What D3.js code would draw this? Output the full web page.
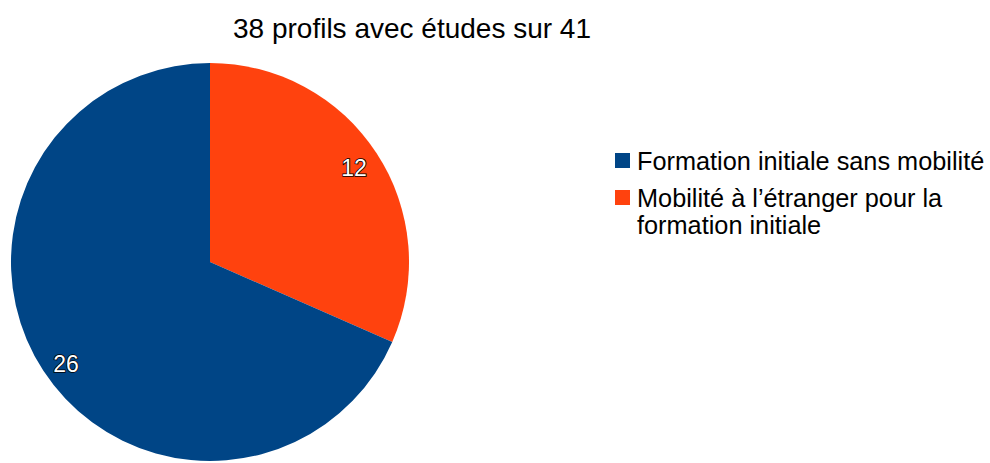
<!DOCTYPE html>
<html>
<head>
<meta charset="utf-8">
<script src="https://cdn.jsdelivr.net/npm/d3@7"></script>
<style>
  body { margin: 0; background: #fff; }
  text { font-family: "Liberation Sans", Arial, sans-serif; }
</style>
</head>
<body>
<svg width="990" height="463"></svg>
<script>
// Data
var categories = ["Mobilité à l’étranger pour la formation initiale", "Formation initiale sans mobilité"];
var values = [12, 26];
var colors = ["#ff420e", "#004586"];
var legendOrder = [1, 0];
var legendLines = [["Formation initiale sans mobilité"], ["Mobilité à l’étranger pour la", "formation initiale"]];
var title = "38 profils avec études sur 41";

var svg = d3.select("svg");
var cx = 210, cy = 262, radius = 199;

svg.append("text")
    .attr("x", 412)
    .attr("y", 38)
    .attr("text-anchor", "middle")
    .attr("font-size", 28)
    .attr("fill", "#000")
    .text(title);

var pie = d3.pie().sort(null).value(function(d) { return d; });
var arcs = pie(values);

var arc = d3.arc().innerRadius(0).outerRadius(radius);
var labelArc = d3.arc().innerRadius(172).outerRadius(172);
var labelDy = [8, 16];

var g = svg.append("g").attr("transform", "translate(" + cx + "," + cy + ")");

g.selectAll("path")
    .data(arcs)
    .enter().append("path")
    .attr("d", arc)
    .attr("fill", function(d, i) { return colors[i]; });

g.selectAll("text.lbl")
    .data(arcs)
    .enter().append("text")
    .attr("class", "lbl")
    .attr("transform", function(d) {
        var c = labelArc.centroid(d);
        return "translate(" + c[0] + "," + (c[1] + labelDy[d.index]) + ")";
    })
    .attr("text-anchor", "middle")
    .attr("font-size", 23)
    .attr("fill", "#fff")
    .attr("stroke", "#000")
    .attr("stroke-width", 1.6)
    .attr("paint-order", "stroke")
    .text(function(d) { return d.data; });

// Legend
var lg = svg.append("g");
var itemY = [153, 190];
legendOrder.forEach(function(idx, k) {
    lg.append("rect")
        .attr("x", 615)
        .attr("y", itemY[k])
        .attr("width", 15)
        .attr("height", 15)
        .attr("fill", colors[idx]);
    legendLines[k].forEach(function(line, j) {
        lg.append("text")
            .attr("x", 637)
            .attr("y", itemY[k] + 17 + j * 27)
            .attr("font-size", 25.3)
            .attr("fill", "#000")
            .text(line);
    });
});
</script>
</body>
</html>
